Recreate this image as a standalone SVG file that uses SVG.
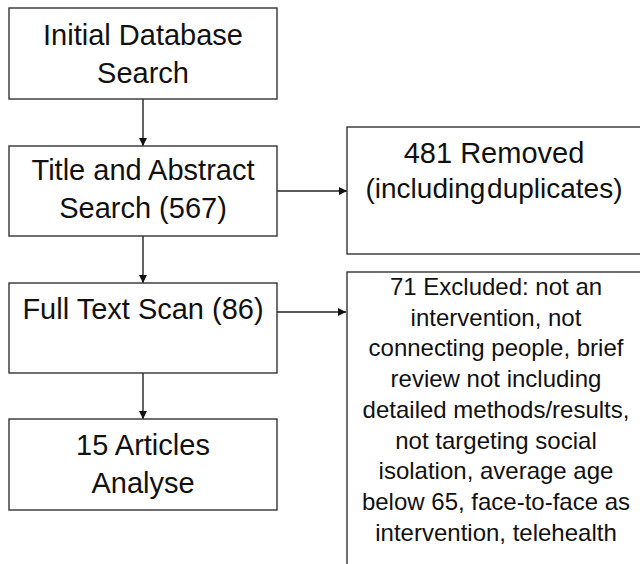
<svg xmlns="http://www.w3.org/2000/svg" width="640" height="564" viewBox="0 0 640 564">
<style>
.box{fill:#fff;stroke:#333;stroke-width:1.4}
.t{font-family:"Liberation Sans",Arial,sans-serif;font-size:29px;fill:#111;text-anchor:middle}
.s{font-family:"Liberation Sans",Arial,sans-serif;font-size:24px;fill:#111;text-anchor:middle}
.c{stroke:#222;stroke-width:1.4;fill:none}
</style>
<defs>
<marker id="ah" viewBox="0 0 10 10" refX="10" refY="5" markerWidth="8" markerHeight="8" markerUnits="userSpaceOnUse" orient="auto">
<path d="M0,0 L10,5 L0,10 z" fill="#111"/>
</marker>
</defs>
<rect width="640" height="564" fill="#fff"/>
<g id="connectors">
<line class="c" x1="143" y1="99" x2="143" y2="146" marker-end="url(#ah)"/>
<line class="c" x1="143" y1="236" x2="143" y2="283" marker-end="url(#ah)"/>
<line class="c" x1="143" y1="373" x2="143" y2="419" marker-end="url(#ah)"/>
<line class="c" x1="277" y1="191" x2="347" y2="191" marker-end="url(#ah)"/>
<line class="c" x1="277" y1="312" x2="346" y2="312" marker-end="url(#ah)"/>
</g>
<g id="n1">
<rect class="box" x="9" y="8" width="268" height="91"/>
<text class="t" x="143" y="45">Initial Database</text>
<text class="t" x="143" y="83">Search</text>
</g>
<g id="n2">
<rect class="box" x="9" y="146" width="268" height="90"/>
<text class="t" x="143" y="180">Title and Abstract</text>
<text class="t" x="143" y="218">Search (567)</text>
</g>
<g id="n3">
<rect class="box" x="347" y="127" width="300" height="127"/>
<text class="t" x="494" y="163">481 Removed</text>
<text class="t" x="494" y="198" style="font-size:28px;word-spacing:-6px">(including duplicates)</text>
</g>
<g id="n4">
<rect class="box" x="9" y="283" width="268" height="90"/>
<text class="t" x="143" y="319">Full Text Scan (86)</text>
</g>
<g id="n5">
<rect class="box" x="9" y="419" width="268" height="91"/>
<text class="t" x="143" y="455">15 Articles</text>
<text class="t" x="143" y="493">Analyse</text>
</g>
<g id="n6">
<rect class="box" x="347" y="272" width="300" height="300"/>
<text class="s" x="496" y="295">71 Excluded: not an</text>
<text class="s" x="496" y="326">intervention, not</text>
<text class="s" x="496" y="356">connecting people, brief</text>
<text class="s" x="496" y="387">review not including</text>
<text class="s" x="496" y="418">detailed methods/results,</text>
<text class="s" x="496" y="449">not targeting social</text>
<text class="s" x="496" y="479">isolation, average age</text>
<text class="s" x="496" y="510">below 65, face-to-face as</text>
<text class="s" x="496" y="541">intervention, telehealth</text>
</g>
</svg>
